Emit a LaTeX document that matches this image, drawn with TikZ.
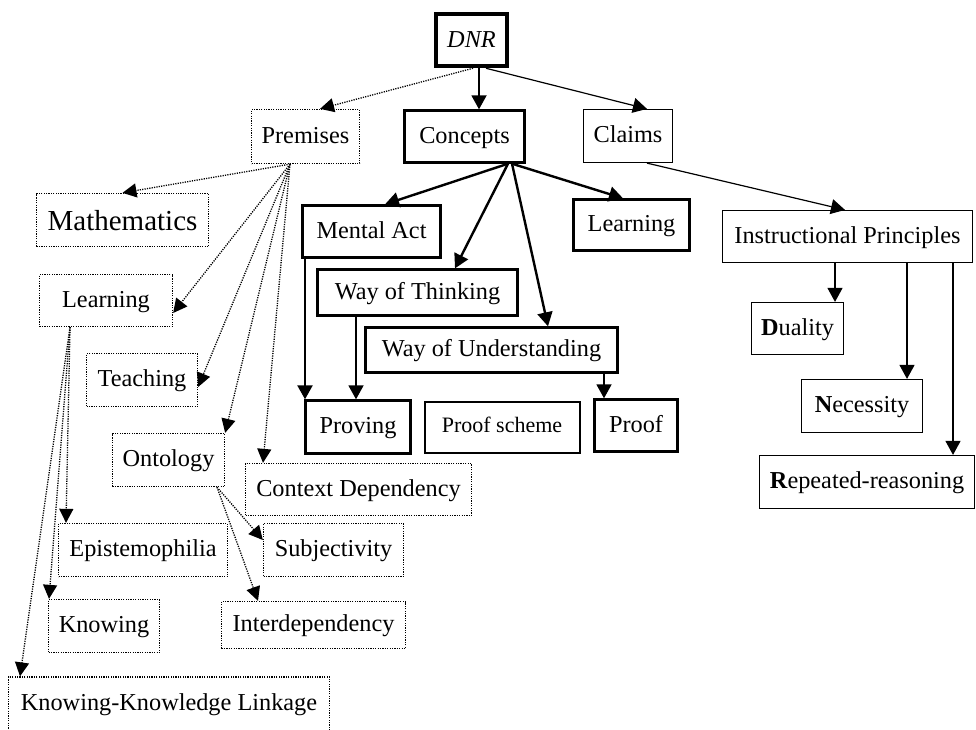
\documentclass[tikz,border=0pt]{standalone}
\usepackage{fontspec}
\setmainfont{Liberation Serif}
\usetikzlibrary{arrows.meta}
\tikzset{
  box/.style={draw, rectangle, inner sep=0pt, align=center, font=\fontsize{24.3}{28}\selectfont, text height=17pt, text depth=4pt},
  thin box/.style={box, line width=1.2pt},
  thick box/.style={box, line width=2.4pt},
  dot box/.style={box, line width=1.3pt, dash pattern=on 1.2pt off 1.2pt},
  tip/.style={-{Triangle[length=14pt,width=15pt]}},
  thinarrow/.style={tip, line width=1.2pt},
  thickarrow/.style={tip, line width=2.4pt},
  dotarrow/.style={-{Triangle[length=14pt,width=14pt]}, line width=1.3pt, dash pattern=on 1.2pt off 1.2pt},
}
\begin{document}
\begin{tikzpicture}[x=1pt,y=-1pt]
\useasboundingbox (0,0) rectangle (976,729);
% top
\node[box, line width=4.5pt, minimum width=71pt, minimum height=52pt, font=\fontsize{24.3}{28}\selectfont\itshape, text height=18pt, text depth=4pt] (dnr) at (471.5,40) {DNR};
\node[dot box, minimum width=108pt, minimum height=54pt] (prem) at (305.5,136.5) {Premises};
\node[thick box, minimum width=120pt, minimum height=52pt] (conc) at (464.5,136.5) {Concepts};
\node[thin box, minimum width=89pt, minimum height=53pt] (claims) at (628,136) {Claims};
% concepts children
\node[thick box, minimum width=138pt, minimum height=52pt] (mental) at (371.5,231.5) {Mental Act};
\node[thick box, minimum width=200pt, minimum height=46pt] (wot) at (417.5,292.5) {Way of Thinking};
\node[thick box, minimum width=252pt, minimum height=45pt] (wou) at (491.5,350) {Way of Understanding};
\node[thick box, minimum width=116pt, minimum height=51pt] (learn2) at (631.5,225) {Learning};
\node[thick box, minimum width=105pt, minimum height=53pt] (proving) at (358,427) {Proving};
\node[box, line width=2pt, minimum width=155pt, minimum height=51pt, font=\fontsize{22}{26}\selectfont, text height=14pt, text depth=4pt] (pscheme) at (502,427) {Proof scheme};
\node[thick box, minimum width=83pt, minimum height=52pt] (proof) at (636,425.5) {Proof};
% claims children
\node[thin box, minimum width=250pt, minimum height=52pt] (ip) at (847.5,236.5) {Instructional Principles};
\node[thin box, minimum width=92pt, minimum height=52pt] (dual) at (797.5,328.5) {\textbf{D}uality};
\node[thin box, minimum width=121pt, minimum height=53pt] (nec) at (862,406) {\textbf{N}ecessity};
\node[thin box, minimum width=215pt, minimum height=53pt] (rep) at (867,482) {\textbf{R}epeated-reasoning};
% premises children
\node[dot box, minimum width=172pt, minimum height=53pt, font=\fontsize{29}{33}\selectfont, text height=24pt, text depth=4pt] (math) at (122.5,220) {Mathematics};
\node[dot box, minimum width=133pt, minimum height=52pt] (learn1) at (106,300.5) {Learning};
\node[dot box, minimum width=111pt, minimum height=53pt] (teach) at (142,380) {Teaching};
\node[dot box, minimum width=112pt, minimum height=53pt] (onto) at (168.5,460) {Ontology};
\node[dot box, minimum width=226pt, minimum height=52pt] (cdep) at (358.5,489.5) {Context Dependency};
\node[dot box, minimum width=169pt, minimum height=53pt] (epi) at (143,550) {Epistemophilia};
\node[dot box, minimum width=140pt, minimum height=53pt] (subj) at (333.5,550) {Subjectivity};
\node[dot box, minimum width=111pt, minimum height=53pt] (know) at (104,626) {Knowing};
\node[dot box, minimum width=184pt, minimum height=47pt] (inter) at (313.5,625) {Interdependency};
\node[dot box, minimum width=321pt, minimum height=54pt] (kkl) at (169,704) {Knowing-Knowledge Linkage};
% DNR arrows
\draw[dotarrow] ([xshift=1.5pt]dnr.south) -- ([xshift=14.5pt]prem.north);
\draw[tip, line width=1.9pt] ([xshift=7.5pt]dnr.south) -- ([xshift=14.5pt]conc.north);
\draw[thinarrow] ([xshift=14.5pt]dnr.south) -- ([xshift=19pt]claims.north);
% Concepts arrows
\draw[thickarrow] ([xshift=43.5pt]conc.south) -- ([xshift=13.5pt]mental.north);
\draw[thickarrow] ([xshift=43.5pt]conc.south) -- ([xshift=37.5pt]wot.north);
\draw[thickarrow] ([xshift=47.5pt]conc.south) -- ([xshift=56.5pt]wou.north);
\draw[thickarrow] ([xshift=47.5pt]conc.south) -- ([xshift=-8.5pt]learn2.north);
\coordinate (ma) at ([xshift=-66.5pt]mental.south);
\draw[thickarrow] (ma) -- (ma |- proving.north);
\coordinate (wt) at ([xshift=-61.5pt]wot.south);
\draw[tip, line width=1.8pt] (wt) -- (wt |- proving.north);
\coordinate (wu) at ([xshift=112.5pt]wou.south);
\draw[tip, line width=1.8pt] (wu) -- (wu |- proof.north);
% Claims arrows
\draw[thinarrow] ([xshift=19pt]claims.south) -- ([xshift=-2.5pt]ip.north);
\coordinate (i1) at ([xshift=-12.5pt]ip.south);
\draw[thinarrow] (i1) -- (i1 |- dual.north);
\coordinate (i2) at ([xshift=59.5pt]ip.south);
\draw[thinarrow] (i2) -- (i2 |- nec.north);
\coordinate (i3) at ([xshift=105.5pt]ip.south);
\draw[thinarrow] (i3) -- (i3 |- rep.north);
% Premises arrows
\coordinate (ps) at ([xshift=-15.5pt]prem.south);
\draw[dotarrow] (ps) -- (math.north);
\draw[dotarrow] (ps) -- ([yshift=-12.5pt]learn1.east);
\draw[dotarrow] (ps) -- ([yshift=-7pt]teach.east);
\draw[dotarrow] (ps) -- (onto.north east);
\draw[dotarrow] (ps) -- ([xshift=-95.5pt]cdep.north);
% Learning arrows
\coordinate (ls) at ([xshift=-36pt]learn1.south);
\draw[dotarrow] (ls) -- ([xshift=-77pt]epi.north);
\draw[dotarrow] (ls) -- ([xshift=-55pt]know.north);
\draw[dotarrow] (ls) -- ([xshift=-149pt]kkl.north);
% Ontology arrows
\coordinate (os) at ([xshift=48.5pt]onto.south);
\draw[dotarrow] (os) -- ([yshift=10pt]subj.west);
\draw[dotarrow] (os) -- ([xshift=-55.5pt]inter.north);
\end{tikzpicture}
\end{document}
